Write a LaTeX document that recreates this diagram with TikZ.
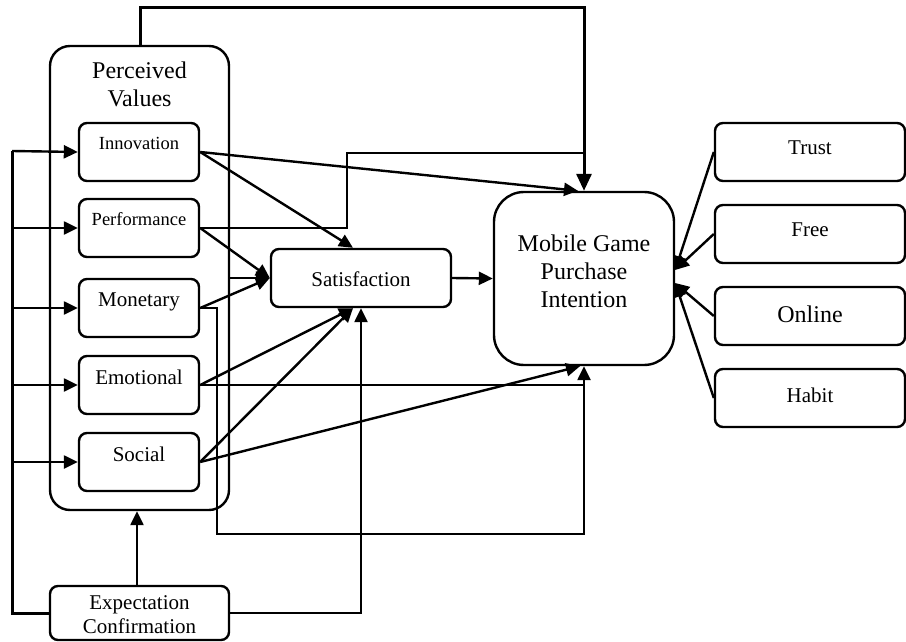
\documentclass[tikz,border=0pt]{standalone}
\usepackage{fontspec}
\setmainfont{Liberation Serif}
\usetikzlibrary{arrows.meta}
\begin{document}
\begin{tikzpicture}[x=1pt,y=-1pt,
  box/.style={draw, line width=2.4pt, rounded corners=8pt, minimum width=120pt, minimum height=58pt, inner sep=0pt},
  wbox/.style={box, minimum width=180pt},
  rbox/.style={box, minimum width=190pt},
  lbl/.style={font=\fontsize{21}{24}\selectfont, align=center, inner sep=0pt},
  slbl/.style={lbl, font=\fontsize{18.5}{22}\selectfont},
  blbl/.style={lbl, font=\fontsize{24}{28}\selectfont},
  ln/.style={line width=2.4pt},
  arr/.style={line width=2.4pt, -{Triangle[length=14pt,width=13pt]}},
  barr/.style={line width=3pt, -{Triangle[length=17pt,width=15pt]}}
]
\useasboundingbox (0,0) rectangle (906,642);

% boxes
\node[box, rounded corners=20pt, minimum width=179pt, minimum height=464pt] (pv) at (139.5,278) {};
\node[blbl] (pvl) at (139.5,84) {Perceived\\Values};
\node[box] (inn) at (139,152) {};
\node[slbl] (innl) at (139,143) {Innovation};
\node[box] (perf) at (139,228) {};
\node[slbl] (perfl) at (139,219) {Performance};
\node[box] (mon) at (139,308) {};
\node[lbl] (monl) at (139,302) {Monetary};
\node[box] (emo) at (139,385) {};
\node[lbl] (emol) at (139,377) {Emotional};
\node[box] (soc) at (139,462) {};
\node[lbl] (socl) at (139,454) {Social};
\node[wbox] (sat) at (361,278) {};
\node[lbl] (satl) at (361,279) {Satisfaction};
\node[box, rounded corners=30pt, minimum width=180pt, minimum height=173pt] (mg) at (584,278.5) {};
\node[blbl] (mgl) at (584,271) {Mobile Game\\Purchase\\Intention};
\node[rbox] (tr) at (810,152) {};
\node[lbl] (trl) at (810,148) {Trust};
\node[rbox] (fr) at (810,234) {};
\node[lbl] (frl) at (810,230) {Free};
\node[rbox] (on) at (810,316) {};
\node[blbl] (onl) at (810,314) {Online};
\node[rbox] (hb) at (810,398) {};
\node[lbl] (hbl) at (810,395) {Habit};
\node[box, minimum width=179pt, minimum height=54pt] (ec) at (139.5,613) {};
\node[lbl] (ecl) at (139.5,615) {Expectation\\Confirmation};

% coordinates
\coordinate (top) at (140,8);
\coordinate (pj) at (347,153);
\coordinate (mj) at (217,534);
\coordinate (bt) at (12,151);

% top route PV -> MGPI
\draw[barr] (pv.north -| top) -- (top) -| (mg.north);
% Performance route to MGPI
\draw[ln] (perf.east) -| (pj) -- (pj -| mg.north);
% Innovation
\draw[arr] (inn.east) -- ([xshift=-6pt]mg.north);
\draw[arr] (inn.east) -- ([xshift=-8pt]sat.north);
% to satisfaction left
\draw[arr] (perf.east) -- (sat.west);
\draw[arr] (mon.east) -- (sat.west);
\draw[arr] (pv.east |- sat.west) -- (sat.west);
% Monetary route to MGPI
\draw[arr] (mon.east) -| (mj) -| (mg.south);
% Emotional
\draw[ln] (emo.east) -- (emo.east -| mg.south);
\draw[arr] (emo.east) -- ([xshift=-8pt]sat.south);
% Social
\draw[arr] (soc.east) -- ([xshift=-8pt]sat.south);
\draw[arr] (soc.east) -- ([xshift=-4pt]mg.south);
% Satisfaction -> MGPI
\draw[arr] (sat.east) -- (mg.west);
% Expectation confirmation
\draw[arr] ([xshift=-2.5pt]ec.north) -- ([xshift=-2.5pt]pv.south);
\draw[arr] (ec.east) -| (sat.south);
\draw[line width=3pt] (ec.west) -| (bt);
\draw[arr] (bt) -- (inn.west);
\draw[arr] (bt |- perf.west) -- (perf.west);
\draw[arr] (bt |- mon.west) -- (mon.west);
\draw[arr] (bt |- emo.west) -- (emo.west);
\draw[arr] (bt |- soc.west) -- (soc.west);
% right side factors
\draw[arr] (tr.west) -- ([yshift=8.5pt]mg.east);
\draw[arr] (fr.west) -- ([yshift=8.5pt]mg.east);
\draw[arr] (on.west) -- ([yshift=-4.5pt]mg.east);
\draw[arr] (hb.west) -- ([yshift=-4.5pt]mg.east);
\end{tikzpicture}
\end{document}
